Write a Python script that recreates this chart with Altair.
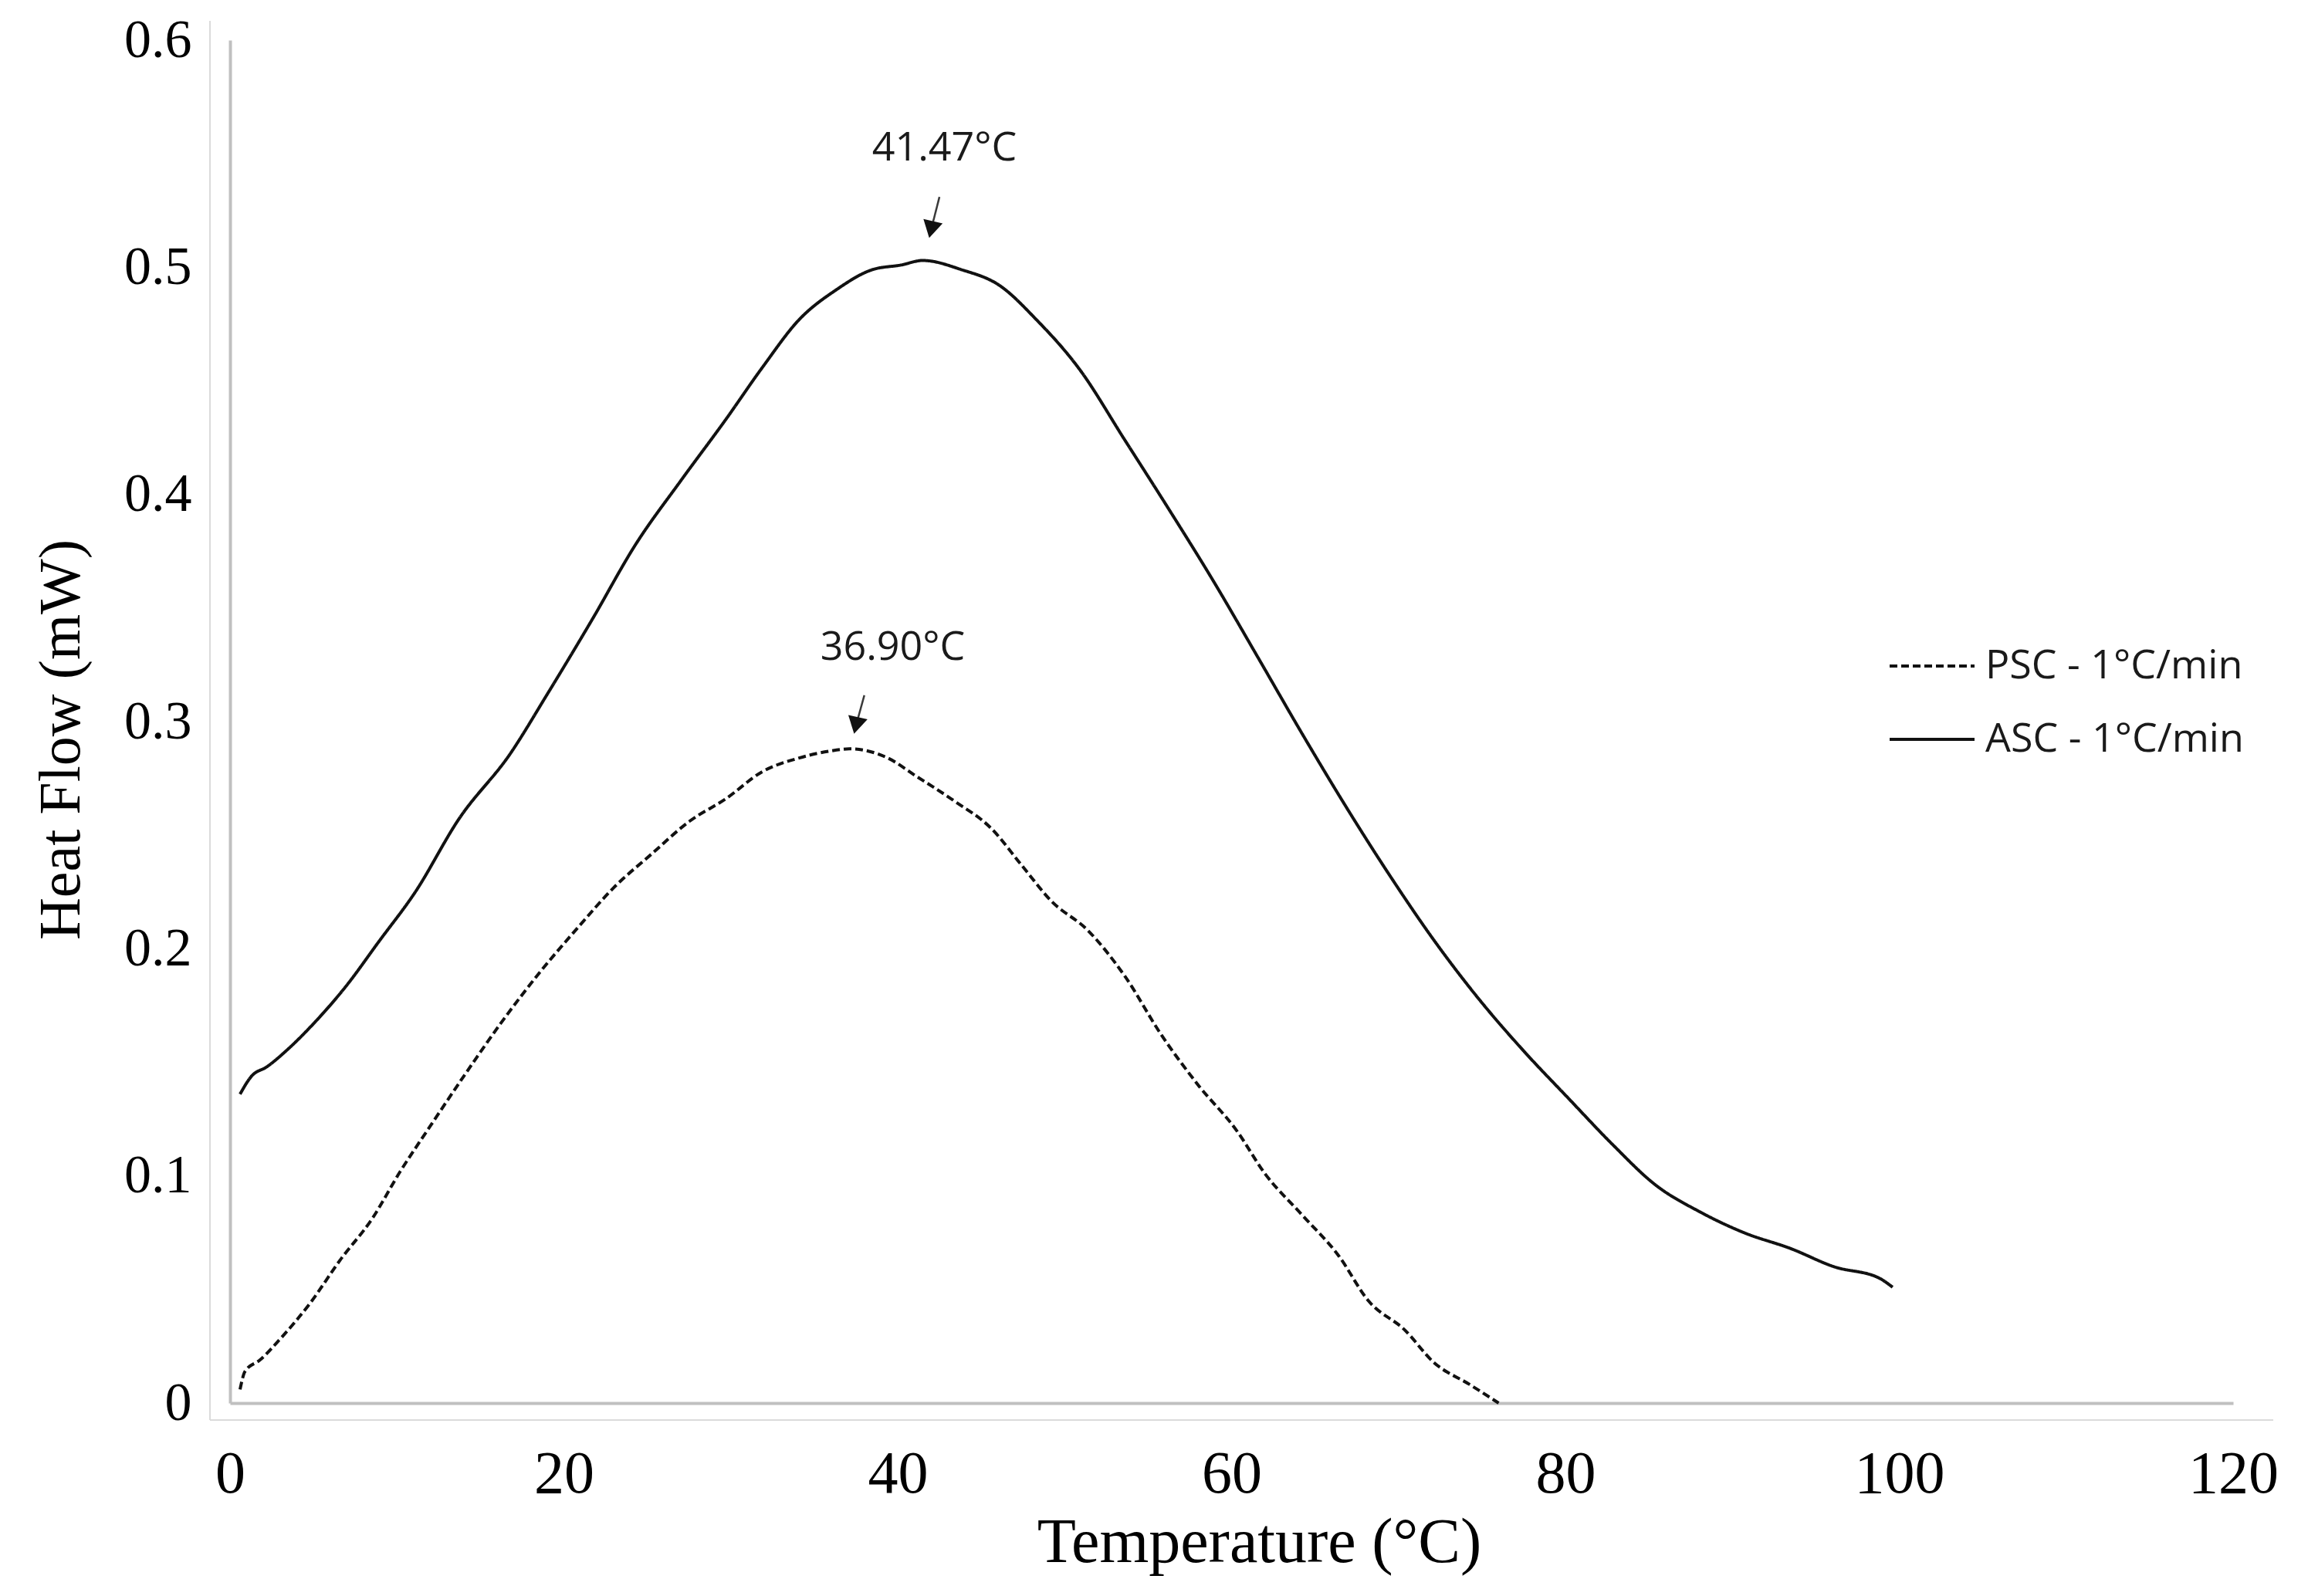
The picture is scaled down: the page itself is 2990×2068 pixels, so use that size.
import altair as alt
import pandas as pd

PSC_NAME = "PSC - 1°C/min"
ASC_NAME = "ASC - 1°C/min"

temp_asc = [0.6, 1.3, 2.2, 3.5, 5.0, 7.0, 8.9, 11.1, 13.7, 16.8, 19.0, 21.7, 24.3, 27.0,
            29.7, 31.9, 34.1, 36.3, 38.5, 40.2, 41.5, 43.8, 46.1, 48.3, 50.9, 53.6, 56.2,
            58.9, 61.6, 64.2, 66.9, 69.5, 72.1, 74.8, 77.5, 80.2, 82.8, 85.4, 88.1, 90.7,
            93.5, 96.1, 98.8, 99.6]
hf_asc = [0.136, 0.144, 0.148, 0.156, 0.167, 0.184, 0.203, 0.225, 0.257, 0.286, 0.312,
          0.345, 0.378, 0.406, 0.433, 0.456, 0.477, 0.490, 0.499, 0.501, 0.503, 0.499,
          0.492, 0.477, 0.455, 0.424, 0.394, 0.362, 0.328, 0.295, 0.262, 0.232, 0.204,
          0.178, 0.155, 0.134, 0.114, 0.096, 0.084, 0.075, 0.068, 0.060, 0.055, 0.051]

temp_psc = [0.6, 0.9, 1.8, 3.1, 4.8, 6.6, 8.5, 10.2, 12.0, 14.2, 16.4, 18.6, 20.8, 23.0,
            25.3, 27.5, 29.7, 31.9, 34.1, 35.9, 37.1, 39.4, 41.1, 43.4, 45.6, 47.4, 49.2,
            51.4, 53.6, 55.8, 58.0, 60.3, 62.0, 64.2, 66.4, 68.2, 70.4, 72.1, 74.3, 76.0]
hf_psc = [0.006, 0.014, 0.019, 0.029, 0.044, 0.063, 0.081, 0.102, 0.122, 0.146, 0.169,
          0.190, 0.209, 0.227, 0.242, 0.256, 0.266, 0.278, 0.284, 0.287, 0.288, 0.284,
          0.276, 0.265, 0.253, 0.237, 0.221, 0.208, 0.188, 0.162, 0.140, 0.120, 0.101,
          0.083, 0.065, 0.045, 0.032, 0.018, 0.008, 0.0]

x_ticks = [0, 20, 40, 60, 80, 100, 120]
y_ticks = [0, 0.1, 0.2, 0.3, 0.4, 0.5, 0.6]

ann_text = ["41.47°C", "36.90°C"]
ann_x = [42.8, 39.7]
ann_y = [0.5525, 0.3327]
arrow_x0 = [42.5, 38.0]
arrow_y0 = [0.531, 0.3116]
arrow_x1 = [42.0, 37.5]
arrow_y1 = [0.5166, 0.2983]

df = pd.concat([
    pd.DataFrame({"T": temp_psc, "HF": hf_psc, "series": PSC_NAME}),
    pd.DataFrame({"T": temp_asc, "HF": hf_asc, "series": ASC_NAME}),
])
ann = pd.DataFrame({"label": ann_text, "T": ann_x, "HF": ann_y,
                    "x0": arrow_x0, "y0": arrow_y0, "x1": arrow_x1, "y1": arrow_y1})

SERIF = "Liberation Serif"
SANS = "Open Sans"

xscale = alt.Scale(domain=[0, 120], nice=False, zero=False)
yscale = alt.Scale(domain=[0, 0.6], nice=False, zero=False)

x_axis = alt.Axis(values=x_ticks, format="d", title="Temperature (°C)",
                  titleFont=SERIF, titleFontSize=82, titleFontWeight="normal",
                  titleColor="#000000", titleX=1333, titleY=180,
                  titleBaseline="middle", titleAlign="center",
                  labelFont=SERIF, labelFontSize=78, labelColor="#000000",
                  labelBaseline="middle", labelPadding=92, labelFlush=False,
                  ticks=False, tickSize=0, grid=False,
                  domainColor="#c0c0c0", domainWidth=4)
y_axis = alt.Axis(values=y_ticks, format=".1~f", title="Heat Flow (mW)",
                  titleFont=SERIF, titleFontSize=76, titleFontWeight="normal",
                  titleColor="#000000", titleX=-219, titleY=906,
                  titleAngle=270, titleBaseline="middle", titleAlign="center",
                  labelFont=SERIF, labelFontSize=70, labelColor="#000000",
                  labelPadding=50, labelFlush=False,
                  ticks=False, tickSize=0, grid=False,
                  domainColor="#c0c0c0", domainWidth=4)

lines = alt.Chart(df).mark_line(strokeWidth=4, color="#111111",
                                interpolate="monotone").encode(
    x=alt.X("T:Q", scale=xscale, axis=x_axis),
    y=alt.Y("HF:Q", scale=yscale, axis=y_axis),
    strokeDash=alt.StrokeDash(
        "series:N",
        scale=alt.Scale(domain=[PSC_NAME, ASC_NAME], range=[[10, 5], [1, 0]]),
        legend=alt.Legend(title=None, orient="none", legendX=2148, legendY=754,
                          symbolType="stroke", symbolSize=12100,
                          symbolStrokeWidth=4, symbolStrokeColor="#111111",
                          labelFont=SANS, labelFontSize=52, labelColor="#1a1a1a",
                          labelLimit=1000, labelOffset=12, rowPadding=12,
                          padding=0, offset=0),
    ),
)

labels = alt.Chart(ann).mark_text(font=SANS, fontSize=52, color="#1a1a1a",
                                  align="center", baseline="middle").encode(
    x=alt.X("T:Q", scale=xscale), y=alt.Y("HF:Q", scale=yscale), text="label:N")

shafts = alt.Chart(ann).mark_rule(strokeWidth=2.5, color="#3a3a3a").encode(
    x=alt.X("x0:Q", scale=xscale), y=alt.Y("y0:Q", scale=yscale),
    x2="x1:Q", y2="y1:Q")

heads = alt.Chart(ann).mark_point(shape="triangle-down", filled=True, size=650,
                                  angle=13, color="#111111", opacity=1).encode(
    x=alt.X("x1:Q", scale=xscale), y=alt.Y("y1:Q", scale=yscale))

frame_left = alt.Chart(ann).mark_rule(color="#d9d9d9", strokeWidth=1.5).encode(
    x=alt.value(-26), y=alt.value(-25), y2=alt.value(1788))
frame_bottom = alt.Chart(ann).mark_rule(color="#d9d9d9", strokeWidth=1.5).encode(
    x=alt.value(-26), x2=alt.value(2647), y=alt.value(1788))

chart = alt.layer(frame_left, frame_bottom, lines, shafts, heads, labels).properties(
    width=2595, height=1766,
    autosize=alt.AutoSizeParams(type="none"),
    padding={"left": 290, "top": 44, "right": 89, "bottom": 242},
    background="white",
).configure_view(stroke=None)

chart.save("out.html", embed_options={"renderer": "svg", "actions": False})
